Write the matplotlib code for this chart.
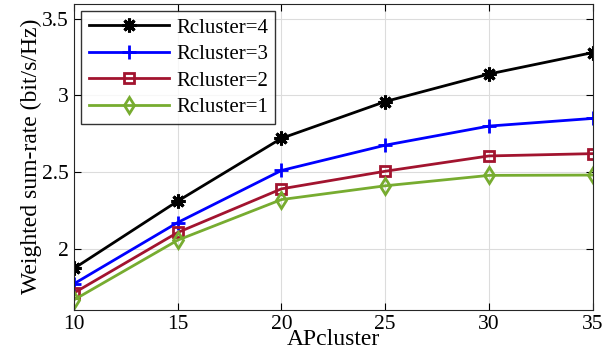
import numpy as np
import matplotlib
matplotlib.use('Agg')
import matplotlib.pyplot as plt

plt.rcParams['font.family'] = ['Liberation Serif', 'DejaVu Serif']
plt.rcParams['mathtext.fontset'] = 'stix'

apcluster = [10, 15, 20, 25, 30, 35]
r4 = [1.87, 2.31, 2.72, 2.96, 3.14, 3.28]
r3 = [1.77, 2.17, 2.51, 2.675, 2.80, 2.85]
r2 = [1.71, 2.105, 2.39, 2.505, 2.605, 2.62]
r1 = [1.665, 2.055, 2.32, 2.41, 2.478, 2.48]
labels = ['Rcluster=4', 'Rcluster=3', 'Rcluster=2', 'Rcluster=1']

fig = plt.figure(figsize=(6.11, 3.59), dpi=100)
ax = fig.add_axes([0.121, 0.137, 0.849, 0.853])

ax.plot(apcluster, r4, color='black', lw=2, marker=(8, 2, 0), ms=10, mew=2.2, label=labels[0])
ax.plot(apcluster, r3, color=(0, 0, 1), lw=2, marker='+', ms=10, mew=2, label=labels[1])
ax.plot(apcluster, r2, color=(0.635, 0.078, 0.184), lw=2, marker='s', ms=6.5, mew=2,
        mfc='none', label=labels[2])
ax.plot(apcluster, r1, color=(0.466, 0.674, 0.188), lw=2, marker='d', ms=8.5, mew=2,
        mfc='none', label=labels[3])

ax.set_xlim(10, 35)
ax.set_ylim(1.6, 3.6)
ax.set_xticks([10, 15, 20, 25, 30, 35])
ax.set_yticks([2, 2.5, 3, 3.5])
ax.set_yticklabels(['2', '2.5', '3', '3.5'])
ax.grid(True, color='#dcdcdc', lw=0.8)
ax.set_axisbelow(True)
ax.tick_params(direction='in', top=True, right=True, labelsize=15.5, length=5, width=0.8, pad=4)
for s in ax.spines.values():
    s.set_linewidth(0.8)
    s.set_color('#262626')

ax.set_xlabel('APcluster', fontsize=17, labelpad=-4)
ax.set_ylabel('Weighted sum-rate (bit/s/Hz)', fontsize=17, labelpad=0)

leg = ax.legend(loc='upper left', fontsize=15, frameon=True, fancybox=False,
                edgecolor='black', borderaxespad=0.35, handlelength=3.85,
                labelspacing=0.33, borderpad=0.35, handletextpad=0.35)
leg.get_frame().set_linewidth(1.0)

fig.savefig('out.png', dpi=100)
